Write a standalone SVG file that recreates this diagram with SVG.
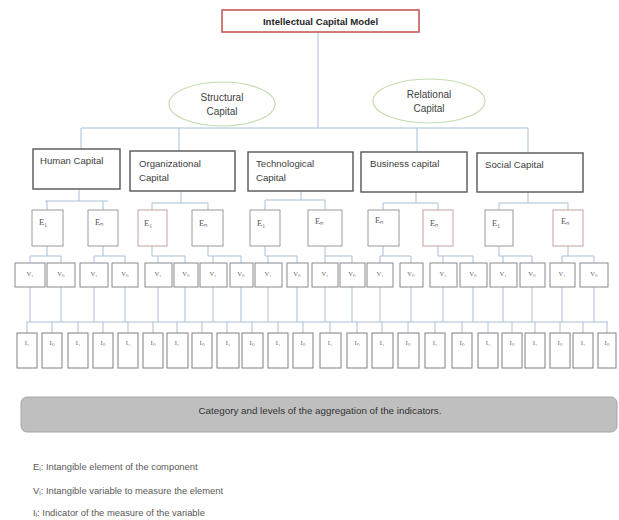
<svg xmlns="http://www.w3.org/2000/svg" width="619" height="520" viewBox="0 0 619 520">
<style>
text{font-family:"Liberation Sans",Arial,sans-serif;fill:#404040}
.ttl{font-size:9.6px;font-weight:bold;fill:#262626}
.lbl{font-size:9.6px;fill:#404040}
.ellt{font-size:10px;fill:#404040}
.sym{font-family:"Liberation Serif","Times New Roman",serif;font-size:8.5px;fill:#555}
.sm{font-family:"Liberation Serif","Times New Roman",serif;font-size:6.5px;fill:#666}
.comp{fill:#fff;stroke:#555;stroke-width:1.4}
.el{fill:#fff;stroke:#9a9a9a;stroke-width:1}
.elr{fill:#fff;stroke:#c9a0a0;stroke-width:1}
.var{fill:#fff;stroke:#8a8a8a;stroke-width:1}
.ind{fill:#fff;stroke:#808080;stroke-width:1}
.ell{fill:#fff;stroke:#c6dbb0;stroke-width:1.2}
.c{fill:none;stroke:#a9bfd8;stroke-width:1}
.leg{font-size:9.4px;fill:#595959}
</style>
<g id="connectors" class="c">
<path d="M318 32V128M81 128H528M81 128V149M179 128V151M417 128V152M528 128V153"/>
<path d="M79 189V201M45 201H108M47 201V210M103 201V210"/>
<path d="M181 191V203M152 203H208M152 203V210M208 203V210"/>
<path d="M301 191V200M265 200H325M265 200V210M325 200V210"/>
<path d="M416 192V203M383 203H438M383 203V210M438 203V210"/>
<path d="M528 192V203M499 203H568M499 203V210M568 203V210"/>
<path d="M47 246V256M30 256H61M30 256V263M61 256V263"/>
<path d="M103 246V256M94 256H125M94 256V263M125 256V263"/>
<path d="M152 246V256M158 256H185M152 256H158M158 256V263M185 256V263"/>
<path d="M208 246V256M213 256H241M208 256H213M213 256V263M241 256V263"/>
<path d="M265 246V256M268 256H297M265 256H268M268 256V263M297 256V263"/>
<path d="M325 246V256M325 256H352M325 256V263M352 256V263"/>
<path d="M383 246V256M380 256H411M380 256V263M411 256V263"/>
<path d="M438 246V256M443 256H473M438 256H443M443 256V263M473 256V263"/>
<path d="M499 246V256M503 256H532M499 256H503M503 256V263M532 256V263"/>
<path d="M568 246V256M562 256H594M562 256V263M594 256V263"/>
<path d="M30 287V322M61 287V322M94 287V322M125 287V322M158 287V322M185 287V322M213 287V322M241 287V322M268 287V322M297 287V322M325 287V322M352 287V322M380 287V322M411 287V322M443 287V322M473 287V322M503 287V322M532 287V322M562 287V322M594 287V322"/>
<path d="M27 322H608"/>
<path d="M27 322V333M52 322V333M78 322V333M103 322V333M128 322V333M153 322V333M177 322V333M202 322V333M227 322V333M252 322V333M278 322V333M303 322V333M330 322V333M357 322V333M382 322V333M408 322V333M435 322V333M462 322V333M488 322V333M512 322V333M535 322V333M560 322V333M583 322V333M607 322V333"/>
</g>
<g id="title"><rect x="222" y="10" width="197" height="22" fill="#fff" stroke="#c0504d" stroke-width="1.5"/><text class="ttl" x="320.5" y="24.5" text-anchor="middle">Intellectual Capital Model</text></g>
<g id="structural"><ellipse class="ell" cx="222" cy="104" rx="53" ry="22"/><text class="ellt" x="222" y="100.5" text-anchor="middle">Structural</text><text class="ellt" x="222" y="114.5" text-anchor="middle">Capital</text></g>
<g id="relational"><ellipse class="ell" cx="429" cy="101" rx="56" ry="22"/><text class="ellt" x="429" y="98" text-anchor="middle">Relational</text><text class="ellt" x="429" y="112" text-anchor="middle">Capital</text></g>
<g id="human"><rect class="comp" x="33" y="149" width="87" height="40"/><text class="lbl" x="40" y="164">Human Capital</text></g>
<g id="organizational"><rect class="comp" x="130" y="151" width="105" height="40"/><text class="lbl" x="139" y="167">Organizational</text><text class="lbl" x="139" y="181">Capital</text></g>
<g id="technological"><rect class="comp" x="248" y="152" width="105" height="39"/><text class="lbl" x="256" y="167">Technological</text><text class="lbl" x="256" y="181">Capital</text></g>
<g id="business"><rect class="comp" x="361" y="152" width="106" height="40"/><text class="lbl" x="370" y="167">Business capital</text></g>
<g id="social"><rect class="comp" x="477" y="153" width="106" height="39"/><text class="lbl" x="485" y="168">Social Capital</text></g>
<g id="elements">
<g id="e1"><rect class="el" x="32" y="210" width="31" height="36"/><text class="sym" x="39" y="225">E₁</text></g>
<g id="e2"><rect class="el" x="88" y="210" width="30" height="36"/><text class="sym" x="95" y="225">Eₙ</text></g>
<g id="e3"><rect class="elr" x="138" y="210" width="29" height="36"/><text class="sym" x="144" y="226">E₁</text></g>
<g id="e4"><rect class="el" x="192" y="210" width="31" height="36"/><text class="sym" x="199" y="226">Eₙ</text></g>
<g id="e5"><rect class="el" x="250" y="210" width="30" height="36"/><text class="sym" x="257" y="226">E₁</text></g>
<g id="e6"><rect class="el" x="308" y="210" width="34" height="36"/><text class="sym" x="315" y="224">Eₙ</text></g>
<g id="e7"><rect class="el" x="368" y="210" width="31" height="36"/><text class="sym" x="375" y="223">Eₙ</text></g>
<g id="e8"><rect class="elr" x="423" y="210" width="30" height="36"/><text class="sym" x="430" y="226">Eₙ</text></g>
<g id="e9"><rect class="el" x="485" y="210" width="28" height="36"/><text class="sym" x="492" y="226">E₁</text></g>
<g id="e10"><rect class="elr" x="553" y="210" width="30" height="36"/><text class="sym" x="561" y="224">Eₙ</text></g>
</g>
<g id="variables">
<g id="v1"><rect class="var" x="15" y="263" width="30" height="24"/><text class="sm" x="30" y="276" text-anchor="middle">V₁</text></g>
<g id="v2"><rect class="var" x="47" y="263" width="28" height="24"/><text class="sm" x="61" y="276" text-anchor="middle">Vₙ</text></g>
<g id="v3"><rect class="var" x="80" y="263" width="28" height="24"/><text class="sm" x="94" y="276" text-anchor="middle">V₁</text></g>
<g id="v4"><rect class="var" x="112" y="263" width="26" height="24"/><text class="sm" x="125" y="276" text-anchor="middle">Vₙ</text></g>
<g id="v5"><rect class="var" x="145" y="263" width="27" height="24"/><text class="sm" x="158" y="276" text-anchor="middle">V₁</text></g>
<g id="v6"><rect class="var" x="174" y="263" width="24" height="24"/><text class="sm" x="186" y="276" text-anchor="middle">Vₙ</text></g>
<g id="v7"><rect class="var" x="200" y="263" width="27" height="24"/><text class="sm" x="213" y="276" text-anchor="middle">V₁</text></g>
<g id="v8"><rect class="var" x="230" y="263" width="23" height="24"/><text class="sm" x="241" y="276" text-anchor="middle">Vₙ</text></g>
<g id="v9"><rect class="var" x="255" y="263" width="27" height="24"/><text class="sm" x="268" y="276" text-anchor="middle">V₁</text></g>
<g id="v10"><rect class="var" x="287" y="263" width="21" height="24"/><text class="sm" x="297" y="276" text-anchor="middle">Vₙ</text></g>
<g id="v11"><rect class="var" x="312" y="263" width="26" height="24"/><text class="sm" x="325" y="276" text-anchor="middle">V₁</text></g>
<g id="v12"><rect class="var" x="340" y="263" width="25" height="24"/><text class="sm" x="352" y="276" text-anchor="middle">Vₙ</text></g>
<g id="v13"><rect class="var" x="367" y="263" width="26" height="24"/><text class="sm" x="380" y="276" text-anchor="middle">V₁</text></g>
<g id="v14"><rect class="var" x="400" y="263" width="23" height="24"/><text class="sm" x="411" y="276" text-anchor="middle">Vₙ</text></g>
<g id="v15"><rect class="var" x="430" y="263" width="27" height="24"/><text class="sm" x="443" y="276" text-anchor="middle">V₁</text></g>
<g id="v16"><rect class="var" x="460" y="263" width="27" height="24"/><text class="sm" x="473" y="276" text-anchor="middle">Vₙ</text></g>
<g id="v17"><rect class="var" x="490" y="263" width="27" height="24"/><text class="sm" x="503" y="276" text-anchor="middle">V₁</text></g>
<g id="v18"><rect class="var" x="520" y="263" width="25" height="24"/><text class="sm" x="532" y="276" text-anchor="middle">Vₙ</text></g>
<g id="v19"><rect class="var" x="550" y="263" width="25" height="24"/><text class="sm" x="562" y="276" text-anchor="middle">V₁</text></g>
<g id="v20"><rect class="var" x="580" y="263" width="28" height="24"/><text class="sm" x="594" y="276" text-anchor="middle">Vₙ</text></g>
</g>
<g id="indicators">
<g id="i1"><rect class="ind" x="17" y="333" width="20" height="35"/><text class="sm" x="27" y="345" text-anchor="middle">I₁</text></g>
<g id="i2"><rect class="ind" x="42" y="333" width="20" height="35"/><text class="sm" x="52" y="345" text-anchor="middle">Iₙ</text></g>
<g id="i3"><rect class="ind" x="68" y="333" width="20" height="35"/><text class="sm" x="78" y="345" text-anchor="middle">I₁</text></g>
<g id="i4"><rect class="ind" x="93" y="333" width="20" height="35"/><text class="sm" x="103" y="345" text-anchor="middle">Iₙ</text></g>
<g id="i5"><rect class="ind" x="118" y="333" width="20" height="35"/><text class="sm" x="128" y="345" text-anchor="middle">I₁</text></g>
<g id="i6"><rect class="ind" x="143" y="333" width="20" height="35"/><text class="sm" x="153" y="345" text-anchor="middle">Iₙ</text></g>
<g id="i7"><rect class="ind" x="167" y="333" width="21" height="35"/><text class="sm" x="177" y="345" text-anchor="middle">I₁</text></g>
<g id="i8"><rect class="ind" x="192" y="333" width="20" height="35"/><text class="sm" x="202" y="345" text-anchor="middle">Iₙ</text></g>
<g id="i9"><rect class="ind" x="217" y="333" width="22" height="35"/><text class="sm" x="228" y="345" text-anchor="middle">I₁</text></g>
<g id="i10"><rect class="ind" x="242" y="333" width="21" height="35"/><text class="sm" x="252" y="345" text-anchor="middle">Iₙ</text></g>
<g id="i11"><rect class="ind" x="268" y="333" width="20" height="35"/><text class="sm" x="278" y="345" text-anchor="middle">I₁</text></g>
<g id="i12"><rect class="ind" x="293" y="333" width="20" height="35"/><text class="sm" x="303" y="345" text-anchor="middle">Iₙ</text></g>
<g id="i13"><rect class="ind" x="320" y="333" width="21" height="35"/><text class="sm" x="330" y="345" text-anchor="middle">I₁</text></g>
<g id="i14"><rect class="ind" x="347" y="333" width="20" height="35"/><text class="sm" x="357" y="345" text-anchor="middle">Iₙ</text></g>
<g id="i15"><rect class="ind" x="372" y="333" width="21" height="35"/><text class="sm" x="382" y="345" text-anchor="middle">I₁</text></g>
<g id="i16"><rect class="ind" x="398" y="333" width="21" height="35"/><text class="sm" x="408" y="345" text-anchor="middle">Iₙ</text></g>
<g id="i17"><rect class="ind" x="425" y="333" width="20" height="35"/><text class="sm" x="435" y="345" text-anchor="middle">I₁</text></g>
<g id="i18"><rect class="ind" x="452" y="333" width="20" height="35"/><text class="sm" x="462" y="345" text-anchor="middle">Iₙ</text></g>
<g id="i19"><rect class="ind" x="478" y="333" width="20" height="35"/><text class="sm" x="488" y="345" text-anchor="middle">I₁</text></g>
<g id="i20"><rect class="ind" x="502" y="333" width="20" height="35"/><text class="sm" x="512" y="345" text-anchor="middle">Iₙ</text></g>
<g id="i21"><rect class="ind" x="525" y="333" width="20" height="35"/><text class="sm" x="535" y="345" text-anchor="middle">I₁</text></g>
<g id="i22"><rect class="ind" x="550" y="333" width="20" height="35"/><text class="sm" x="560" y="345" text-anchor="middle">Iₙ</text></g>
<g id="i23"><rect class="ind" x="573" y="333" width="20" height="35"/><text class="sm" x="583" y="345" text-anchor="middle">I₁</text></g>
<g id="i24"><rect class="ind" x="598" y="333" width="18" height="35"/><text class="sm" x="607" y="345" text-anchor="middle">Iₙ</text></g>
</g>
<g id="category"><rect x="21" y="397" width="596" height="35" rx="6" fill="#bfbfbf" stroke="#a6a6a6" stroke-width="1"/><text x="320" y="414" text-anchor="middle" style="font-size:9.8px;fill:#333">Category and levels of the aggregation of the indicators.</text></g>
<g id="legend">
<text class="leg" x="33" y="470">Eᵢ: Intangible element of the component</text>
<text class="leg" x="33" y="494">Vᵢ: Intangible variable to measure the element</text>
<text class="leg" x="33" y="516">Iᵢ: Indicator of the measure of the variable</text>
</g>
</svg>
